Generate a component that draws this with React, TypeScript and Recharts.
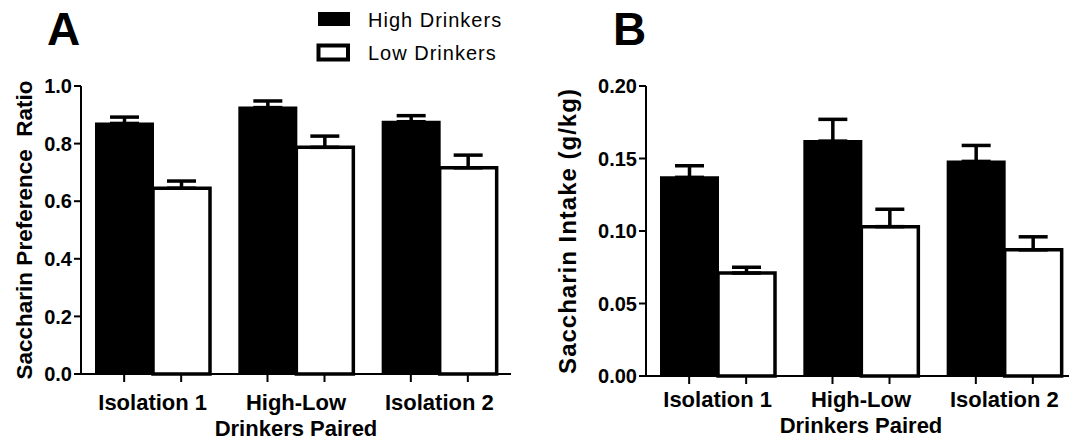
import { BarChart, Bar, XAxis, YAxis, ErrorBar, Legend } from 'recharts';

const groups = ['Isolation 1', 'High-Low', 'Isolation 2'];

// A: saccharin preference ratio (mean, SEM)
const prefHigh = [0.87, 0.925, 0.876];
const prefHighSem = [0.022, 0.023, 0.021];
const prefLow = [0.645, 0.787, 0.716];
const prefLowSem = [0.025, 0.039, 0.044];

// B: saccharin intake g/kg (mean, SEM)
const intakeHigh = [0.137, 0.162, 0.148];
const intakeHighSem = [0.008, 0.015, 0.011];
const intakeLow = [0.071, 0.103, 0.087];
const intakeLowSem = [0.004, 0.012, 0.009];

const prefTicks = [0, 0.2, 0.4, 0.6, 0.8, 1.0];
const intakeTicks = [0, 0.05, 0.1, 0.15, 0.2];

const FONT = '"Liberation Sans", Arial, Helvetica, sans-serif';
const BAR = 57;

const build = (high: number[], highSem: number[], low: number[], lowSem: number[]) =>
  groups.map((g, i) => ({
    group: g,
    high: high[i],
    highErr: [0, highSem[i]],
    low: low[i],
    lowErr: [0, lowSem[i]],
  }));

const prefData = build(prefHigh, prefHighSem, prefLow, prefLowSem);
const intakeData = build(intakeHigh, intakeHighSem, intakeLow, intakeLowSem);

function GroupTick({ x, y, payload, labelDy }: any) {
  const half = BAR / 2;
  return (
    <g>
      <line x1={x - half} x2={x - half} y1={y} y2={y + 8} stroke="#000" strokeWidth={2} />
      <line x1={x + half} x2={x + half} y1={y} y2={y + 8} stroke="#000" strokeWidth={2} />
      <text
        x={x}
        y={y + labelDy}
        textAnchor="middle"
        fontFamily={FONT}
        fontSize={22}
        fontWeight="bold"
        fill="#000"
      >
        {payload.value}
      </text>
    </g>
  );
}

function LegendBox() {
  return (
    <svg width={220} height={70} style={{ display: 'block', fontFamily: FONT }}>
      <rect x={18} y={12} width={32} height={14} fill="#000" />
      <text x={68} y={27} fontFamily={FONT} fontSize={20} letterSpacing={1} fill="#000">High Drinkers</text>
      <rect x={18.5} y={45.5} width={29.5} height={14} fill="#fff" stroke="#000" strokeWidth={4} />
      <text x={68} y={60} fontFamily={FONT} fontSize={20} letterSpacing={1} fill="#000">Low Drinkers</text>
    </svg>
  );
}

interface PanelProps {
  data: any[];
  ticks: number[];
  digits: number;
  yLabel: string;
  yLabelSize: number;
  yLabelSpacing: number;
  width: number;
  yAxisWidth: number;
  marginRight: number;
  xAxisHeight: number;
  labelDy: number;
  titleOffset: number;
  yLabelOffset: number;
  legend?: boolean;
}

function Panel(p: PanelProps) {
  const top = p.ticks[p.ticks.length - 1];
  return (
    <BarChart
      width={p.width}
      height={443}
      data={p.data}
      margin={{ top: 86, right: p.marginRight, left: 0, bottom: 0 }}
      barGap={0}
      barSize={BAR}
    >
      <XAxis
        dataKey="group"
        height={p.xAxisHeight}
        axisLine={{ stroke: '#000', strokeWidth: 2 }}
        tickLine={false}
        tickSize={0}
        tickMargin={0}
        interval={0}
        tick={<GroupTick labelDy={p.labelDy} />}
        label={{
          value: 'Drinkers Paired',
          position: 'insideBottom',
          offset: p.titleOffset,
          style: { fontFamily: FONT, fontSize: 22, fontWeight: 'bold', fill: '#000' },
        }}
      />
      <YAxis
        width={p.yAxisWidth}
        domain={[0, top]}
        ticks={p.ticks}
        interval={0}
        tickFormatter={(v: number) => v.toFixed(p.digits)}
        axisLine={{ stroke: '#000', strokeWidth: 2 }}
        tickLine={{ stroke: '#000', strokeWidth: 2 }}
        tickSize={7}
        tickMargin={2}
        tick={{ fontFamily: FONT, fontSize: 20, fontWeight: 'bold', fill: '#000' }}
        label={{
          value: p.yLabel,
          angle: -90,
          position: 'insideLeft',
          offset: p.yLabelOffset,
          style: {
            textAnchor: 'middle',
            fontFamily: FONT,
            fontSize: p.yLabelSize,
            letterSpacing: p.yLabelSpacing,
            fontWeight: 'bold',
            fill: '#000',
          },
        }}
      />
      {p.legend && (
        <Legend
          layout="vertical"
          align="center"
          verticalAlign="middle"
          wrapperStyle={{ left: 300, top: 0, width: 220, height: 70 }}
          content={() => <LegendBox />}
        />
      )}
      <Bar dataKey="high" name="High Drinkers" fill="#000" stroke="#000" strokeWidth={2} isAnimationActive={false}>
        <ErrorBar dataKey="highErr" direction="y" width={14.5} stroke="#000" strokeWidth={3.5} isAnimationActive={false} />
      </Bar>
      <Bar dataKey="low" name="Low Drinkers" fill="#fff" stroke="#000" strokeWidth={3.5} isAnimationActive={false}>
        <ErrorBar dataKey="lowErr" direction="y" width={14.5} stroke="#000" strokeWidth={3.5} isAnimationActive={false} />
      </Bar>
    </BarChart>
  );
}

export default function App() {
  return (
    <div
      style={{
        position: 'absolute',
        left: 0,
        top: 0,
        width: 1069,
        height: 443,
        overflow: 'hidden',
        background: '#fff',
        fontFamily: FONT,
      }}
    >
      <div style={{ position: 'absolute', left: 0, top: 0 }}>
        <Panel
          data={prefData}
          ticks={prefTicks}
          digits={1}
          yLabel={'Saccharin Preference\u00A0 Ratio'}
          yLabelSize={22.5}
          yLabelSpacing={0}
          width={530}
          yAxisWidth={81}
          marginRight={19}
          xAxisHeight={69}
          labelDy={36}
          titleOffset={7}
          yLabelOffset={24}
          legend
        />
      </div>
      <div style={{ position: 'absolute', left: 540, top: 0 }}>
        <Panel
          data={intakeData}
          ticks={intakeTicks}
          digits={2}
          yLabel="Saccharin Intake (g/kg)"
          yLabelSize={24}
          yLabelSpacing={1}
          width={540}
          yAxisWidth={106}
          marginRight={4}
          xAxisHeight={67}
          labelDy={31}
          titleOffset={10}
          yLabelOffset={27}
        />
      </div>
      <svg width={1069} height={60} style={{ position: 'absolute', left: 0, top: 0, pointerEvents: 'none' }}>
        <text x={47} y={45} fontFamily={FONT} fontSize={46} fontWeight="bold" fill="#000">A</text>
        <text x={613} y={45} fontFamily={FONT} fontSize={46} fontWeight="bold" fill="#000">B</text>
      </svg>
    </div>
  );
}
